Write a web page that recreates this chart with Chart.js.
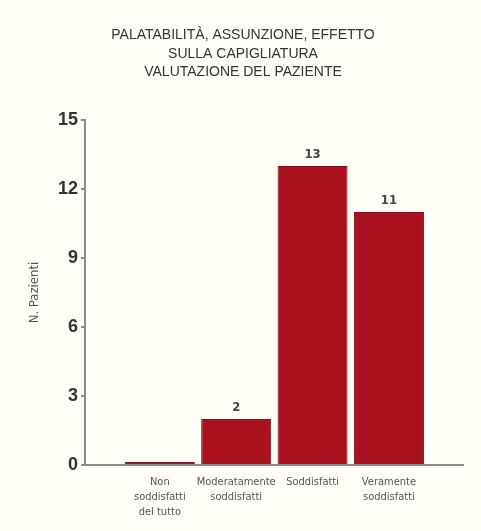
<!DOCTYPE html>
<html lang="it">

<head>
    <meta charset="UTF-8">
    <meta name="viewport" content="width=device-width, initial-scale=1.0">
    <script src="https://cdn.jsdelivr.net/npm/chart.js"></script>
    <title>Valutazione del paziente</title>
    <style>
        body { margin: 0; background: #fffff7; }
    </style>
</head>

<body>
    <canvas id="myChart" width="481" height="531"></canvas>
    <script>
        // dati
        var categorie = [
            ['Non', 'soddisfatti', 'del tutto'],
            ['Moderatamente', 'soddisfatti'],
            ['Soddisfatti'],
            ['Veramente', 'soddisfatti']
        ]
        var pazienti = [0, 2, 13, 11]
        var tickY = [0, 3, 6, 9, 12, 15]
        var titolo = ['PALATABILITÀ, ASSUNZIONE, EFFETTO', 'SULLA CAPIGLIATURA', 'VALUTAZIONE DEL PAZIENTE']

        var narrow = '"Liberation Sans Narrow", "DejaVu Sans Condensed", "Liberation Sans", sans-serif'

        // sfondo crema
        var sfondo = {
            id: 'sfondo',
            beforeDraw: function (chart) {
                var c = chart.ctx
                c.save()
                c.fillStyle = '#fffff7'
                c.fillRect(0, 0, chart.width, chart.height)
                c.restore()
            }
        }

        // numeri sopra le barre
        var etichette = {
            id: 'etichette',
            afterDatasetsDraw: function (chart) {
                var c = chart.ctx
                var meta = chart.getDatasetMeta(0)
                c.save()
                c.fillStyle = '#444'
                c.font = 'bold 13px ' + narrow
                c.textAlign = 'center'
                c.textBaseline = 'middle'
                meta.data.forEach(function (bar, i) {
                    if (pazienti[i] > 0) c.fillText(String(pazienti[i]), bar.x, bar.y - 11)
                })
                c.restore()
            }
        }

        var ctx = document.getElementById('myChart')
        var myChart = new Chart(ctx, {
            type: 'bar',
            data: {
                datasets: [{
                    data: pazienti.map(function (v, i) { return { x: i, y: v } }),
                    backgroundColor: '#a9111f',
                    borderColor: '#8a0c18',
                    borderWidth: 1,
                    minBarLength: 3,
                    barPercentage: 1,
                    categoryPercentage: 0.917
                }]
            },
            plugins: [sfondo, etichette],
            options: {
                responsive: false,
                animation: false,
                layout: { padding: { left: 23, right: 18, top: 0, bottom: 0 } },
                plugins: {
                    legend: { display: false },
                    tooltip: { enabled: false },
                    title: {
                        display: true,
                        text: titolo,
                        color: '#333',
                        font: { family: '"Liberation Sans", Arial, sans-serif', size: 14, weight: 'normal', lineHeight: 1.32 },
                        padding: { top: 26, bottom: 38.6 }
                    }
                },
                scales: {
                    x: {
                        type: 'linear',
                        offset: false,
                        min: -0.98,
                        max: 3.97,
                        afterBuildTicks: function (scale) {
                            scale.ticks = categorie.map(function (c, i) { return { value: i } })
                        },
                        afterFit: function (scale) { scale.height = 66 },
                        grid: { display: false, drawTicks: false, offset: false },
                        border: { display: true, color: '#8c8c8c', width: 2 },
                        ticks: {
                            autoSkip: false,
                            maxRotation: 0,
                            padding: 9,
                            color: '#555',
                            font: { family: narrow, size: 11, lineHeight: 1.4 },
                            callback: function (v) { return categorie[v] }
                        }
                    },
                    y: {
                        min: 0,
                        max: 15,
                        afterBuildTicks: function (scale) {
                            scale.ticks = tickY.map(function (v) { return { value: v } })
                        },
                        afterFit: function (scale) { scale.width = 62 },
                        grid: { drawOnChartArea: false, tickLength: 4, color: '#8c8c8c', lineWidth: 2 },
                        border: { display: true, color: '#8c8c8c', width: 2 },
                        ticks: {
                            padding: 3,
                            color: '#333',
                            font: { family: '"Liberation Sans", Arial, sans-serif', size: 18, weight: 'bold' }
                        },
                        title: {
                            display: true,
                            text: 'N. Pazienti',
                            color: '#555',
                            font: { family: narrow, size: 13 },
                            padding: { top: 4, bottom: 0 }
                        }
                    }
                }
            }
        })
    </script>

</body>

</html>
